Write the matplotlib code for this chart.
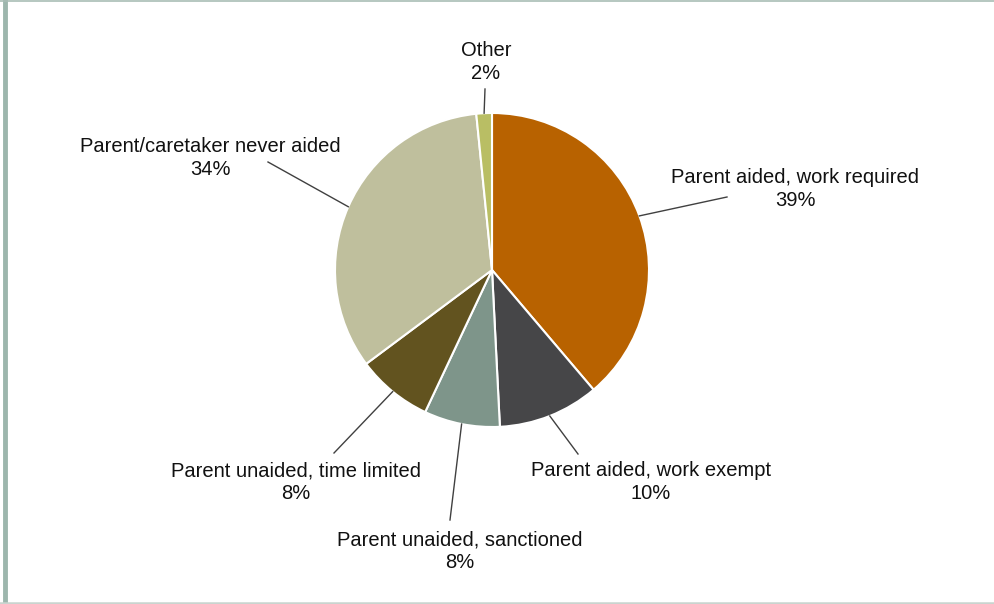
import matplotlib
matplotlib.use("Agg")
import matplotlib.pyplot as plt
import numpy as np
from matplotlib.lines import Line2D

plt.rcParams['font.family'] = ['Liberation Sans', 'DejaVu Sans']

# slices in clockwise order, starting at 12 o'clock
categories = ["Parent aided, work required", "Parent aided, work exempt",
              "Parent unaided, sanctioned", "Parent unaided, time limited",
              "Parent/caretaker never aided", "Other"]
shares = [38.8, 10.4, 7.8, 7.8, 33.6, 1.6]
pct_labels = ["39%", "10%", "8%", "8%", "34%", "2%"]
colors = ["#B86200", "#464648", "#7E958A", "#62531F", "#BFBF9D", "#B9BE64"]

W, H = 994, 604
CX, CY, R = 492, 270, 157

# label block centre and leader end, in pixel coords (y down)
label_pos = [(795, 189), (651, 482), (460, 551), (296, 482), (210, 158), (486, 62)]
leader_end = [(727, 197), (578, 454), (450, 520), (334, 453), (268, 162), (485, 89)]

fig = plt.figure(figsize=(W / 100, H / 100), dpi=100)
ax = fig.add_axes([0, 0, 1, 1])

wedges, _ = ax.pie(shares, colors=colors, startangle=90, counterclock=False,
                   center=(CX, H - CY), radius=R,
                   wedgeprops=dict(edgecolor="white", linewidth=1.5))
ax.set_xlim(0, W)
ax.set_ylim(0, H)
ax.set_aspect("equal")
ax.axis("off")

for w, cat, pct, (lx, ly), (ex, ey) in zip(wedges, categories, pct_labels,
                                            label_pos, leader_end):
    mid = np.deg2rad((w.theta1 + w.theta2) / 2)
    sx = CX + R * np.cos(mid)
    sy = H - CY + R * np.sin(mid)
    ax.plot([sx, ex], [sy, H - ey], color="#404040", linewidth=1, zorder=1)
    ax.text(lx, H - ly, f"{cat}\n{pct}", ha="center", va="center",
            fontsize=14.5, color="#111111", linespacing=1.22)

# frame
fig.add_artist(Line2D([4.5 / W, 4.5 / W], [0, 1], color="#9DB6AD", linewidth=3.5))
fig.add_artist(Line2D([0, 1], [1 - 0.5 / H, 1 - 0.5 / H], color="#A9BDB5", linewidth=1.2))
fig.add_artist(Line2D([0, 1], [1.5 / H, 1.5 / H], color="#C9D4CF", linewidth=1.8))

fig.savefig("out.png", dpi=100)
